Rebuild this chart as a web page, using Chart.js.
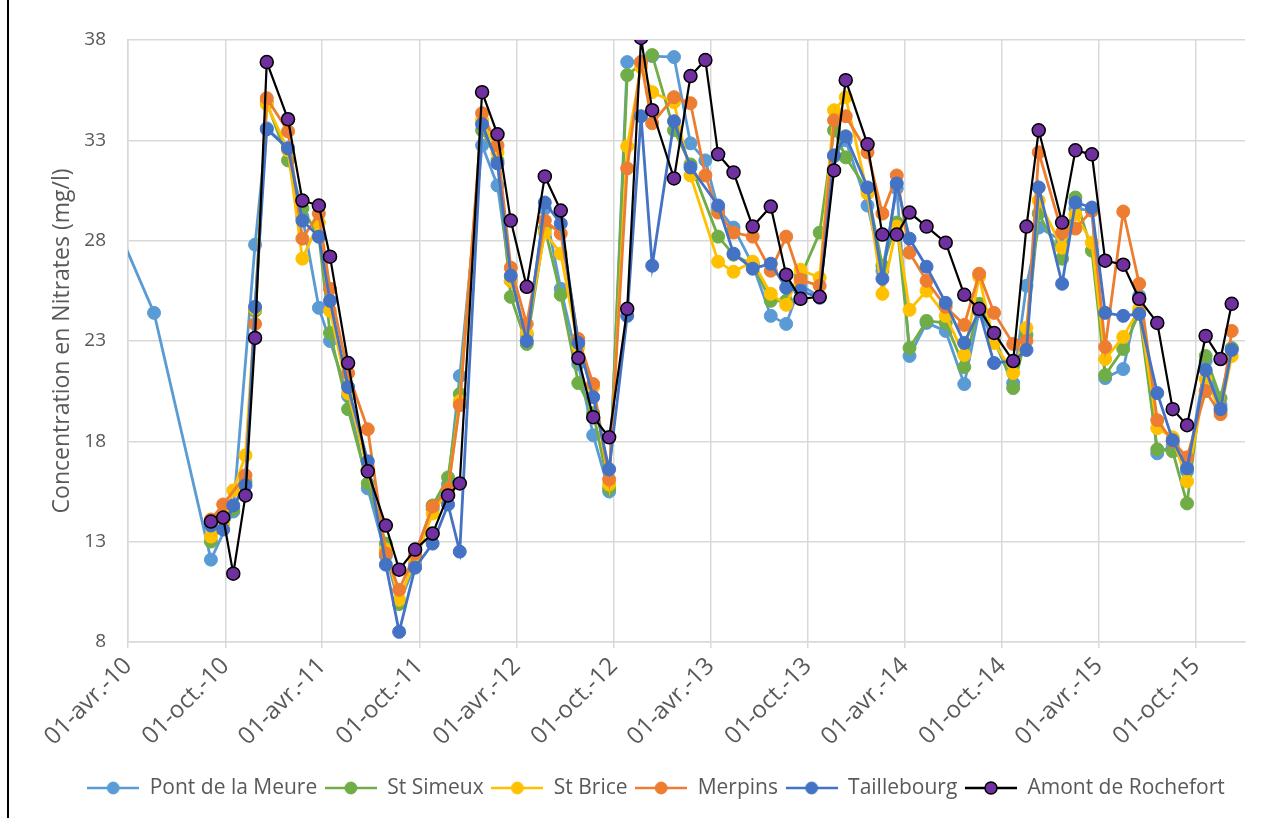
<!DOCTYPE html>
<html>
<head>
<meta charset="utf-8">
<script src="https://cdn.jsdelivr.net/npm/chart.js@4.4.1/dist/chart.umd.min.js"></script>
<style>
  html, body { margin: 0; padding: 0; background: #ffffff; }
  #wrap { position: relative; width: 1285px; height: 818px; overflow: hidden; }
  #frame { position: absolute; left: 7px; top: 0; width: 2px; height: 818px; background: #000; }
  canvas { position: absolute; left: 0; top: 0; }
</style>
</head>
<body>
<div id="wrap">
  <canvas id="c" width="1285" height="818"></canvas>
  <div id="frame"></div>
</div>
<script>
// ---- sampling dates ----
const sampleDates = [
  '2010-03-01','2010-05-20','2010-09-04','2010-09-27','2010-10-16','2010-11-08','2010-11-26','2010-12-18',
  '2011-01-27','2011-02-23','2011-03-26','2011-04-16','2011-05-20','2011-06-26','2011-07-30','2011-08-24',
  '2011-09-23','2011-10-26','2011-11-24','2011-12-16','2012-01-27','2012-02-25','2012-03-21','2012-04-20',
  '2012-05-24','2012-06-23','2012-07-26','2012-08-23','2012-09-22','2012-10-26','2012-11-21','2012-12-12',
  '2013-01-22','2013-02-22','2013-03-22','2013-04-15','2013-05-14','2013-06-19','2013-07-23','2013-08-21',
  '2013-09-17','2013-10-23','2013-11-19','2013-12-11','2014-01-21','2014-02-18','2014-03-17','2014-04-10',
  '2014-05-12','2014-06-17','2014-07-22','2014-08-19','2014-09-16','2014-10-22','2014-11-16','2014-12-09',
  '2015-01-22','2015-02-16','2015-03-19','2015-04-13','2015-05-17','2015-06-16','2015-07-20','2015-08-18',
  '2015-09-14','2015-10-19','2015-11-16','2015-12-07'
];

// ---- series values (mg/l) ----
const pontDeLaMeure = [
  29.3, 24.4, 12.1, null, 14.5, null, 27.8, 33.6,
  32.6, 29.2, 24.65, 23.0, 20.25, 15.65, 12.3, 9.9,
  11.9, 14.6, 15.85, 21.25, 32.75, 30.75, 26.0, 23.3,
  29.6, 25.6, 21.85, 18.3, 15.5, 36.9, 36.9, 37.2,
  37.15, 32.85, 32.0, 29.6, 28.65, 26.8, 24.25, 23.85,
  25.8, 25.2, 32.2, 33.0, 29.75, 26.5, 30.6, 22.25,
  23.9, 23.5, 20.85, 24.5, 23.0, 20.9, 25.75, 28.65,
  28.0, 29.6, 29.5, 21.15, 21.6, 25.25, 17.4, 17.8,
  16.5, 22.0, 19.8, 22.6
];
const stSimeux = [
  null, null, 13.0, null, 14.6, 16.0, 24.5, 34.9,
  32.0, 29.6, 28.2, 23.4, 19.6, 15.9, 12.9, 9.9,
  12.3, 14.8, 16.2, 20.35, 33.5, 32.0, 25.2, 22.85,
  28.6, 25.3, 20.9, 19.4, 15.65, 36.25, null, 37.25,
  33.5, 31.8, null, 28.2, 27.3, 26.8, 25.0, 25.0,
  26.2, 28.4, 33.5, 32.15, 30.5, 26.75, 28.9, 22.65,
  24.0, 23.9, 21.7, 24.85, 23.3, 20.65, 23.3, 29.35,
  27.1, 30.15, 27.5, 21.3, 22.6, 24.4, 17.6, 17.5,
  14.9, 22.25, 20.15, 22.65
];
const stBrice = [
  null, null, 13.25, 13.9, 15.55, 17.3, 24.6, 34.8,
  32.5, 27.1, 28.9, 24.5, 20.4, 16.6, 12.6, 10.1,
  12.1, 14.4, 15.6, 20.0, 34.0, 32.4, 26.0, 23.4,
  28.4, 27.35, 22.7, 20.7, 15.85, 32.7, 36.65, 35.4,
  34.9, 31.25, null, 26.95, 26.45, 26.95, 25.35, 24.8,
  26.55, 26.15, 34.5, 35.15, 30.35, 25.35, 28.7, 24.55,
  25.5, 24.25, 22.3, 26.2, 22.9, 21.4, 23.65, 30.0,
  27.65, 29.3, 27.9, 22.1, 23.2, 24.6, 18.65, 18.2,
  16.0, 21.1, 19.5, 22.25
];
const merpins = [
  null, null, 14.1, 14.85, null, 16.3, 23.85, 35.1,
  33.45, 28.1, 29.35, 25.6, 21.4, 18.6, 12.4, 10.6,
  12.4, 14.75, 15.6, 19.8, 34.35, 32.75, 26.65, 23.85,
  29.0, 28.35, 23.1, 20.85, 16.1, 31.6, 36.9, 33.85,
  35.15, 34.85, 31.25, 29.4, 28.4, 28.2, 26.5, 28.2,
  26.05, 25.75, 34.0, 34.2, 32.4, 29.35, 31.25, 27.4,
  26.0, 24.7, 23.8, 26.35, 24.4, 22.85, 23.0, 32.4,
  28.4, 28.6, 29.5, 22.7, 29.45, 25.85, 19.05, 18.0,
  17.2, 20.5, 19.35, 23.5
];
const taillebourg = [
  null, null, 13.8, 13.6, 14.8, 15.8, 24.7, 33.55,
  32.6, 29.0, 28.2, 25.0, 20.7, 17.0, 11.85, 8.5,
  11.7, 12.9, 14.85, 12.5, 33.8, 31.85, 26.25, 23.0,
  29.9, 28.85, 22.9, 20.2, 16.6, 24.25, 34.2, 26.75,
  33.95, 31.65, null, 29.75, 27.35, 26.6, 26.85, 25.65,
  25.5, 25.15, 32.25, 33.2, 30.65, 26.1, 30.85, 28.1,
  26.7, 24.9, 22.9, 24.5, 21.9, 22.0, 22.55, 30.65,
  25.85, 29.9, 29.65, 24.4, 24.25, 24.35, 20.4, 18.05,
  16.65, 21.55, 19.6, 22.55
];
const amontDeRochefort = [
  null, null, 14.0, 14.2, 11.4, 15.3, 23.15, 36.9,
  34.05, 30.0, 29.75, 27.2, 21.9, 16.5, 13.8, 11.6,
  12.6, 13.4, 15.3, 15.9, 35.4, 33.3, 29.0, 25.7,
  31.2, 29.5, 22.15, 19.2, 18.2, 24.6, 38.1, 34.5,
  31.1, 36.2, 37.0, 32.3, 31.4, 28.7, 29.7, 26.3,
  25.1, 25.2, 31.5, 36.0, 32.8, 28.3, 28.3, 29.4,
  28.7, 27.9, 25.3, 24.6, 23.4, 22.0, 28.7, 33.5,
  28.9, 32.5, 32.3, 27.0, 26.8, 25.1, 23.9, 19.6,
  18.8, 23.25, 22.1, 24.85
];

const seriesNames = ['Pont de la Meure', 'St Simeux', 'St Brice', 'Merpins', 'Taillebourg', 'Amont de Rochefort'];

// ---- x axis ----
const axisStart = '2010-04-01';
const axisEnd = '2016-01-01';
const tickDates = ['2010-04-01','2010-10-01','2011-04-01','2011-10-01','2012-04-01','2012-10-01',
                   '2013-04-01','2013-10-01','2014-04-01','2014-10-01','2015-04-01','2015-10-01'];
const tickLabels = ['01-avr.-10','01-oct.-10','01-avr.-11','01-oct.-11','01-avr.-12','01-oct.-12',
                    '01-avr.-13','01-oct.-13','01-avr.-14','01-oct.-14','01-avr.-15','01-oct.-15'];

function dayNum(s) {
  const [y, m, d] = s.split('-').map(Number);
  return (Date.UTC(y, m - 1, d) - Date.UTC(2010, 3, 1)) / 86400000;
}
const tickDays = tickDates.map(dayNum);

function toPoints(vals) {
  const out = [];
  vals.forEach((v, i) => { if (v !== null) out.push({x: dayNum(sampleDates[i]), y: v}); });
  return out;
}

const colors = ['#5B9BD5', '#70AD47', '#FFC000', '#ED7D31', '#4472C4', '#7030A0'];
const allValues = [pontDeLaMeure, stSimeux, stBrice, merpins, taillebourg, amontDeRochefort];

function legendIcon(lineColor, fill, stroke) {
  const c = document.createElement('canvas');
  c.width = 52; c.height = 16;
  const g = c.getContext('2d');
  g.strokeStyle = lineColor; g.lineWidth = 2.5;
  g.beginPath(); g.moveTo(0, 8); g.lineTo(52, 8); g.stroke();
  g.beginPath(); g.arc(26, 8, 6, 0, Math.PI * 2);
  g.fillStyle = fill; g.fill();
  g.lineWidth = stroke ? 1.5 : 1; g.strokeStyle = stroke || fill; g.stroke();
  return c;
}

const datasets = allValues.map((vals, i) => {
  const isAmont = i === 5;
  return {
    label: seriesNames[i],
    data: toPoints(vals),
    borderColor: isAmont ? '#000000' : colors[i],
    backgroundColor: colors[i],
    pointBackgroundColor: colors[i],
    pointBorderColor: isAmont ? '#000000' : colors[i],
    pointBorderWidth: isAmont ? 1.5 : 1,
    pointRadius: 6.5,
    pointHoverRadius: 6.5,
    borderWidth: isAmont ? 2.2 : 2.8,
    tension: 0,
    spanGaps: true,
    order: 6 - i,
    _icon: legendIcon(isAmont ? '#000000' : colors[i], colors[i], isAmont ? '#000000' : null)
  };
});

const FONT = "'Open Sans', 'Noto Sans', sans-serif";
const GRID = '#D9D9D9';
const TEXT = '#595959';

new Chart(document.getElementById('c'), {
  type: 'line',
  data: { datasets },
  options: {
    responsive: false,
    animation: false,
    devicePixelRatio: 1,
    layout: { padding: { left: 67, right: 40, top: 40, bottom: 9.5 } },
    plugins: {
      tooltip: { enabled: false },
      legend: {
        position: 'bottom',
        labels: {
          usePointStyle: true,
          pointStyleWidth: 52,
          padding: 7.6,
          color: TEXT,
          font: { family: FONT, size: 21 },
          sort: (a, b) => a.datasetIndex - b.datasetIndex,
          generateLabels(chart) {
            const items = Chart.defaults.plugins.legend.labels.generateLabels(chart);
            items.forEach(it => { it.pointStyle = chart.data.datasets[it.datasetIndex]._icon; });
            return items;
          }
        }
      }
    },
    scales: {
      x: {
        type: 'linear',
        min: dayNum(axisStart),
        max: dayNum(axisEnd),
        afterBuildTicks(scale) { scale.ticks = tickDays.map(v => ({ value: v })); },
        afterFit(scale) { scale.height = 128; },
        grid: { color: GRID, lineWidth: 1.5, drawTicks: true, tickLength: 6, tickColor: GRID },
        border: { color: GRID, width: 1.5 },
        ticks: {
          autoSkip: false,
          minRotation: 45,
          maxRotation: 45,
          padding: 4,
          color: TEXT,
          font: { family: FONT, size: 24 },
          callback(value) {
            const k = tickDays.indexOf(value);
            return k >= 0 ? tickLabels[k] : '';
          }
        }
      },
      y: {
        min: 8,
        max: 38,
        afterFit(scale) { scale.width = 61; },
        grid: { color: GRID, lineWidth: 1.5, drawTicks: false },
        border: { color: GRID, width: 1.5 },
        ticks: {
          stepSize: 5,
          padding: 22,
          color: TEXT,
          font: { family: FONT, size: 19 }
        },
        title: {
          display: true,
          text: 'Concentration en Nitrates (mg/l)',
          color: TEXT,
          font: { family: FONT, size: 23 },
          padding: { top: -18.8, bottom: 0 }
        }
      }
    }
  }
});
</script>
</body>
</html>
